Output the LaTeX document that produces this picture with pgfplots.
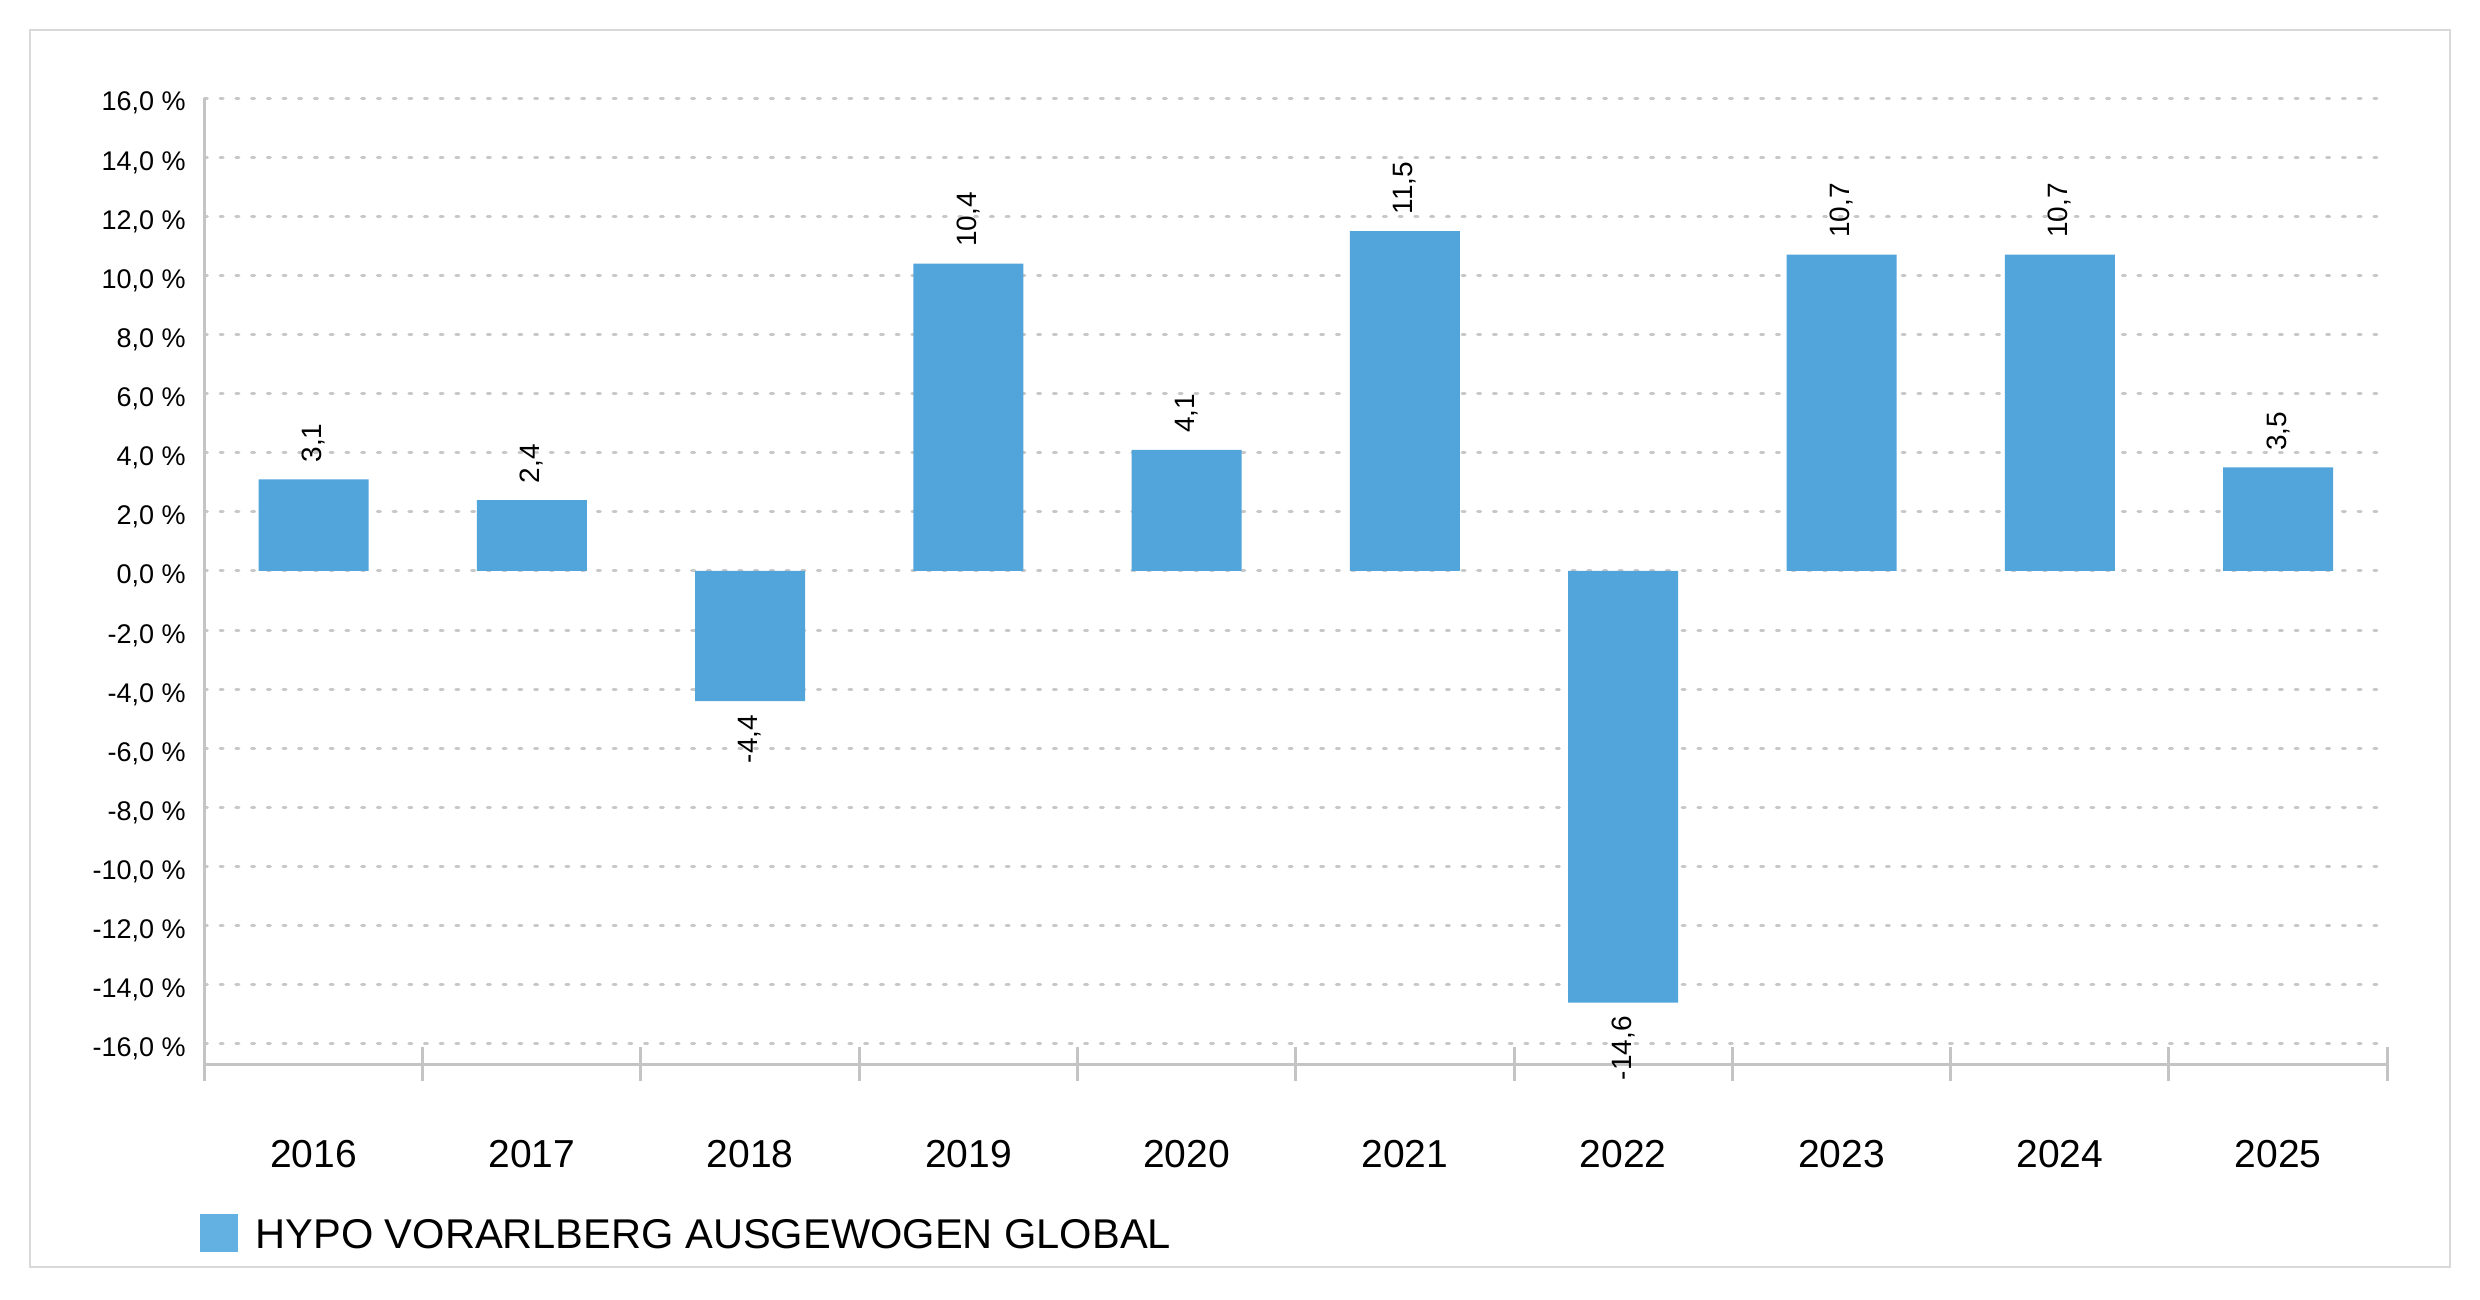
\documentclass[border=0pt]{standalone}
\usepackage{pgfplots}
\pgfplotsset{compat=1.18}
\usepackage{fontspec}
\setmainfont{Liberation Sans}
\definecolor{barblue}{RGB}{82,165,218}
\definecolor{legblue}{RGB}{99,176,227}
\definecolor{gridgray}{RGB}{200,200,200}
\definecolor{axgray}{RGB}{196,196,196}
\definecolor{framegray}{RGB}{217,217,217}
\begin{document}
\begin{tikzpicture}
\useasboundingbox (0,0) rectangle (620pt,324.75pt);
\draw[framegray, line width=0.6pt] (7.5pt,8pt) rectangle (612.5pt,317.25pt);
\begin{axis}[
  at={(51.1pt,58.75pt)}, anchor=south west,
  scale only axis, width=545.7pt, height=241.5pt,
  xmin=-0.5, xmax=9.5, ymin=-16.68, ymax=16,
  axis x line*=bottom, axis y line*=left,
  axis line style={-, draw=axgray, line width=0.75pt},
  ybar, bar width=27.5pt,
  xtick={0,...,9},
  xticklabels={2016,2017,2018,2019,2020,2021,2022,2023,2024,2025},
  minor xtick={-0.5,0.5,...,9.5},
  major tick length=0pt,
  minor tick length=8.5pt,
  tick align=center,
  minor tick style={draw=axgray, line width=0.75pt},
  major tick style={draw=none},
  xticklabel style={anchor=base, inner sep=0pt, yshift=-25.75pt, font=\fontsize{9.75}{11}\selectfont},
  ytick={-16,-14,...,16},
  yticklabels={-16{,}0 \%,-14{,}0 \%,-12{,}0 \%,-10{,}0 \%,-8{,}0 \%,-6{,}0 \%,-4{,}0 \%,-2{,}0 \%,0{,}0 \%,2{,}0 \%,4{,}0 \%,6{,}0 \%,8{,}0 \%,10{,}0 \%,12{,}0 \%,14{,}0 \%,16{,}0 \%},
  yticklabel style={anchor=base east, inner sep=0pt, xshift=-4.5pt, yshift=-3.25pt, font=\fontsize{6.75}{8}\selectfont},
  ymajorgrids,
  major grid style={draw=gridgray, line width=0.75pt, line cap=round, dash pattern=on 0.75pt off 3.18pt},
  legend style={at={(axis description cs:-0.0018,-0.176)}, anchor=west, draw=none, fill=none, inner sep=0pt, outer sep=0pt,
    font=\fontsize{10.4}{12}\selectfont, nodes={inner sep=0pt}, /tikz/column sep=0pt},
  legend cell align=left,
  nodes near coords={\rotatebox{90}{\pgfplotspointmeta}},
]
\addplot[fill=barblue, draw=none, bar shift=0pt,
  point meta=explicit symbolic,
  every node near coord/.append style={font=\fontsize{7}{8}\selectfont, text=black, inner xsep=0pt, inner ysep=4pt, anchor=south},
  legend image code/.code={\fill[legblue] (0pt,-3.75pt) rectangle (9.5pt,5.75pt); \path (13.75pt,0pt);}
] coordinates {
  (0,3.1) [3,1]
  (1,2.4) [2,4]
  (3,10.4) [10,4]
  (4,4.1) [4,1]
  (5,11.5) [11,5]
  (7,10.7) [10,7]
  (8,10.7) [10,7]
  (9,3.5) [3,5]
};
\addlegendentry{HYPO VORARLBERG AUSGEWOGEN GLOBAL}
\addplot[fill=barblue, draw=none, bar shift=0pt, forget plot,
  point meta=explicit symbolic,
  every node near coord/.append style={font=\fontsize{7}{8}\selectfont, text=black, inner xsep=0pt, inner ysep=3.25pt, anchor=north}
] coordinates {
  (2,-4.4) [-4,4]
  (6,-14.6) [-14,6]
};
\end{axis}
\end{tikzpicture}
\end{document}
